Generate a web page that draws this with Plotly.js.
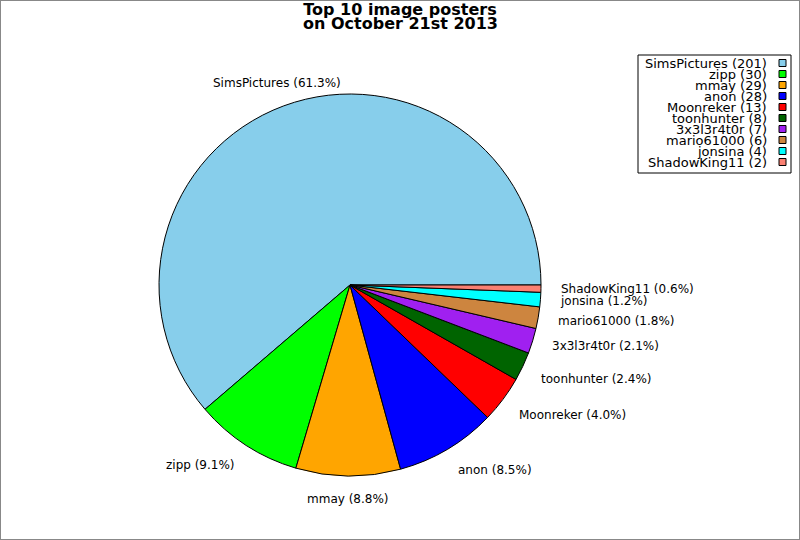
<!DOCTYPE html>
<html>
<head>
<meta charset="utf-8">
<script src="https://cdn.plot.ly/plotly-3.0.1.min.js"></script>
<style>html,body{margin:0;padding:0;background:#fff}#chart{width:800px;height:540px}</style>
</head>
<body>
<div id="chart"></div>
<script>
const titleLine1 = 'Top 10 image posters';
const titleLine2 = 'on October 21st 2013';
const posters = ['SimsPictures','zipp','mmay','anon','Moonreker','toonhunter','3x3l3r4t0r','mario61000','jonsina','ShadowKing11'];
const imageCounts = [201,30,29,28,13,8,7,6,4,2];
const sliceColors = ['#87CEEB','#00FF00','#FFA500','#0000FF','#FF0000','#006400','#A020F0','#CD853F','#00FFFF','#FA8072'];

const W = 800, H = 540;
const CX = 350, CY = 285, R = 191;
const FONT = 'DejaVu Sans, Verdana, sans-serif';
const px = x => x / W;
const py = y => 1 - y / H;

const total = imageCounts.reduce((a, b) => a + b, 0);

// first slice begins at 3 o'clock and slices run counter-clockwise;
// Plotly's counterclockwise mode puts the rotation angle at the clockwise
// edge plus the first slice, so offset by the first slice's sweep.
const firstSweep = 360 * imageCounts[0] / total;

const pie = {
  type: 'pie',
  labels: posters,
  values: imageCounts,
  sort: false,
  direction: 'counterclockwise',
  rotation: 90 - firstSweep,
  textinfo: 'none',
  hoverinfo: 'label+value+percent',
  marker: {colors: sliceColors, line: {color: '#000', width: 1}},
  domain: {x: [px(CX - R), px(CX + R)], y: [py(CY + R), py(CY - R)]},
  showlegend: false
};

const annotations = [];
const shapes = [];

// slice labels, placed at 1.1 * radius from mid-angle of each slice
let cum = 0;
imageCounts.forEach((v, i) => {
  const mid = 2 * Math.PI * (cum + v / 2) / total;
  cum += v;
  const c = Math.cos(mid), s = Math.sin(mid);
  const lx = CX + 1.1 * R * c, ly = CY - 1.1 * R * s;
  const xanchor = Math.abs(c) < 0.4 ? 'center' : (c > 0 ? 'left' : 'right');
  const yshift = s > 0.35 ? 5 : (s < -0.35 ? -4 : 0);
  annotations.push({
    xref: 'paper', yref: 'paper', x: px(lx), y: py(ly),
    xanchor: xanchor, yanchor: 'middle', yshift: yshift,
    text: posters[i] + ' (' + (100 * v / total).toFixed(1) + '%)',
    showarrow: false, borderpad: 0,
    font: {family: FONT, size: 12, color: '#000'}
  });
});

// title line 2
annotations.push({
  xref: 'paper', yref: 'paper', x: 0.5, y: py(23), xanchor: 'center', yanchor: 'middle',
  text: '<b>' + titleLine2 + '</b>', showarrow: false, borderpad: 0,
  font: {family: FONT, size: 16, color: '#000'}
});

// legend box
shapes.push({type: 'rect', xref: 'paper', yref: 'paper',
  x0: px(638), x1: px(791), y0: py(173), y1: py(55),
  line: {color: '#000', width: 1}, fillcolor: '#fff', layer: 'below'});
posters.forEach((name, i) => {
  const yc = 63 + 11 * i;
  annotations.push({
    xref: 'paper', yref: 'paper', x: px(768), y: py(yc), xanchor: 'right', yanchor: 'middle',
    text: name + ' (' + imageCounts[i] + ')', showarrow: false, borderpad: 0,
    font: {family: FONT, size: 13, color: '#000'}
  });
  shapes.push({type: 'rect', xref: 'paper', yref: 'paper',
    x0: px(779), x1: px(786), y0: py(yc + 3.5), y1: py(yc - 3.5),
    line: {color: '#000', width: 1}, fillcolor: sliceColors[i]});
});

// outer frame
shapes.push({type: 'rect', xref: 'paper', yref: 'paper', x0: 0, x1: 1, y0: 0, y1: 1,
  line: {color: '#888', width: 2}, fillcolor: 'rgba(0,0,0,0)'});

const layout = {
  width: W, height: H,
  margin: {l: 0, r: 0, t: 0, b: 0},
  paper_bgcolor: '#fff',
  title: {text: '<b>' + titleLine1 + '</b>', x: 0.5, xanchor: 'center',
    y: py(9), yanchor: 'middle', yref: 'container',
    font: {family: FONT, size: 16, color: '#000'}},
  showlegend: false,
  annotations: annotations,
  shapes: shapes
};

Plotly.newPlot('chart', [pie], layout, {displayModeBar: false, staticPlot: true});
</script>
</body>
</html>
